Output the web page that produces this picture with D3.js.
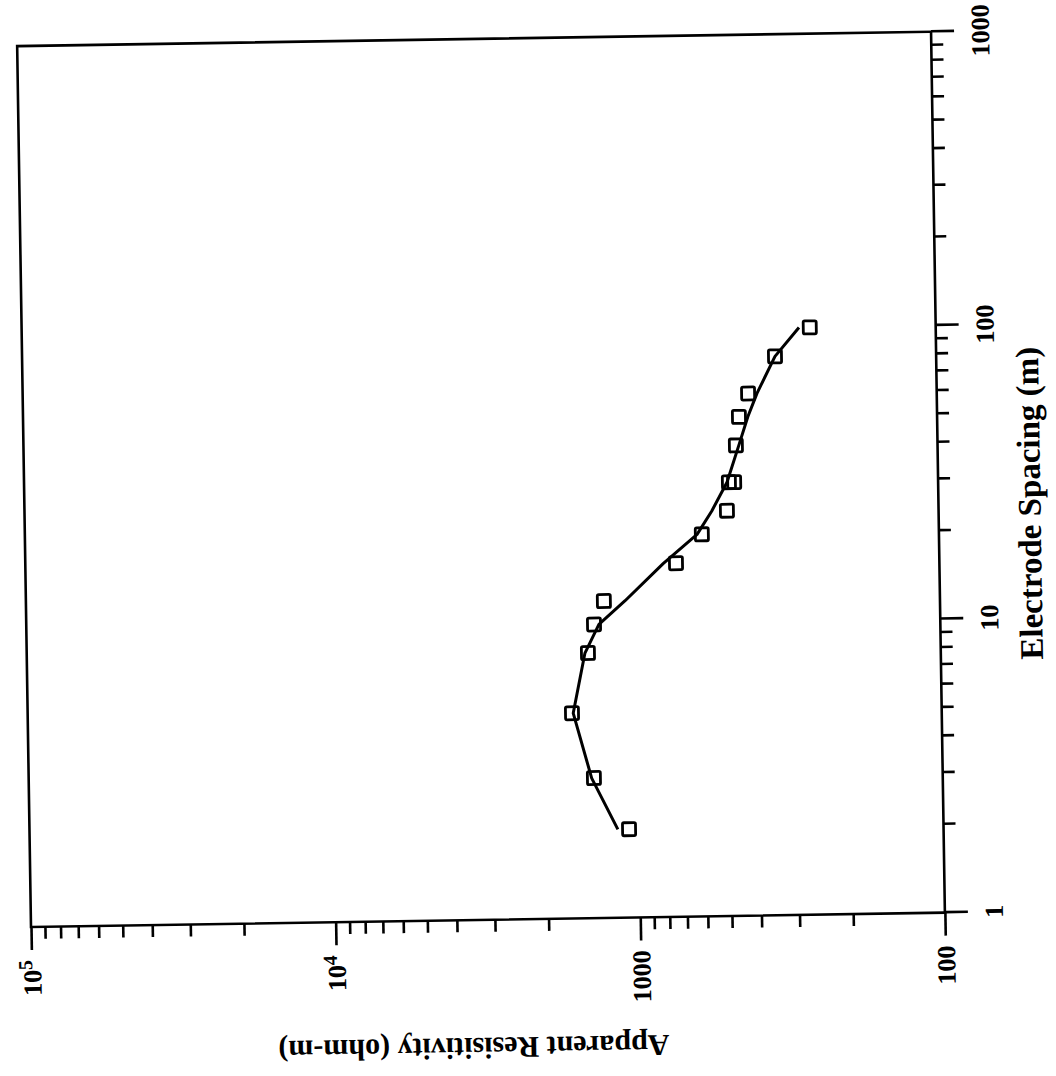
<!DOCTYPE html>
<html>
<head>
<meta charset="utf-8">
<script src="https://cdn.jsdelivr.net/npm/d3@7"></script>
<style>
  body { margin: 0; background: #fff; }
  text { font-family: 'Liberation Serif', 'Times New Roman', serif; font-weight: bold; fill: #000; }
</style>
</head>
<body>
<svg id="chart" width="1056" height="1076"></svg>
<script>
// measured sounding (electrode spacing in m, apparent resistivity in ohm-m)
var spacing = [2, 3, 5, 8, 10, 12, 16, 20, 24, 30, 30, 40, 50, 60, 80, 100]
var apparentRes = [1077, 1396, 1635, 1439, 1370, 1268, 732, 600, 495, 486, 467, 459, 447, 416, 338, 259]

// fitted model curve
var modelSpacing = [2, 3, 5, 8, 10, 12, 16, 20, 24, 30, 40, 50, 60, 80, 100]
var modelRes = [1172, 1420, 1620, 1472, 1320, 1080, 805, 622, 555, 493, 449, 418, 389, 338, 281]

var spacingTicks = [1, 10, 100, 1000]
var resTicks = [100, 1000, 10000, 100000]
var resTickLabels = [['100'], ['1000'], ['10', '4'], ['10', '5']]

var xTitle = 'Electrode Spacing (m)'
var yTitle = 'Apparent Resisitivity (ohm-m)'

var W = 881
var H = 914

var svg = d3.select('#chart')

// the page is a scan of a standard plot turned on its side (and a bit skewed)
var g = svg
  .append('g')
  .attr('transform', 'translate(31,927) rotate(-90.9)')

var x = d3.scaleLog().domain([1, 1000]).range([0, W])
var y = d3.scaleLog().domain([100, 100000]).range([H, 0])

function minorTicks(lo, hi) {
  var out = []
  for (var p = lo; p < hi; p *= 10) {
    for (var k = 1; k < 10; k++) out.push(p * k)
  }
  out.push(hi)
  return out
}

var isMajor = function(d) {
  return Math.abs(Math.log10(d) - Math.round(Math.log10(d))) < 1e-9
}

// x axis (electrode spacing)
var xAxis = g
  .append('g')
  .attr('transform', 'translate(0,' + H + ')')
  .call(
    d3
      .axisBottom(x)
      .tickValues(minorTicks(1, 1000))
      .tickSizeOuter(0)
      .tickFormat(function(d) {
        return spacingTicks.indexOf(d) >= 0 ? String(d) : ''
      })
  )
xAxis.select('.domain').remove()
xAxis
  .selectAll('.tick line')
  .attr('stroke', '#000')
  .attr('stroke-width', 2.6)
  .attr('y2', function(d) {
    return isMajor(d) ? 23 : 12
  })
xAxis
  .selectAll('.tick text')
  .attr('y', 58)
  .attr('dy', 0)
  .style('font-size', '26px')

// y axis (apparent resistivity)
var yAxis = g
  .append('g')
  .call(
    d3
      .axisLeft(y)
      .tickValues(minorTicks(100, 100000))
      .tickSizeOuter(0)
      .tickFormat('')
  )
yAxis.select('.domain').remove()
yAxis
  .selectAll('.tick line')
  .attr('stroke', '#000')
  .attr('stroke-width', 2.6)
  .attr('x2', function(d) {
    return isMajor(d) ? -23 : -12
  })
yAxis
  .selectAll('.tick')
  .filter(function(d) {
    return resTicks.indexOf(d) >= 0
  })
  .each(function(d) {
    var parts = resTickLabels[resTicks.indexOf(d)]
    var t = d3
      .select(this)
      .select('text')
      .text(null)
      .attr('x', -33)
      .attr('dy', '0.35em')
      .attr('text-anchor', 'end')
      .style('font-size', '26px')
    t.append('tspan').text(parts[0])
    if (parts.length > 1)
      t.append('tspan')
        .attr('dy', '-0.45em')
        .style('font-size', '20px')
        .text(parts[1])
  })

// frame
g.append('rect')
  .attr('width', W)
  .attr('height', H)
  .attr('fill', 'none')
  .attr('stroke', '#000')
  .attr('stroke-width', 2.6)

// model curve
var line = d3
  .line()
  .x(function(d, i) {
    return x(modelSpacing[i])
  })
  .y(function(d) {
    return y(d)
  })

g.append('path')
  .attr('d', line(modelRes))
  .attr('fill', 'none')
  .attr('stroke', '#000')
  .attr('stroke-width', 3)
  .attr('stroke-linejoin', 'round')

// data squares
var s = 13
g.selectAll('.pt')
  .data(apparentRes)
  .enter()
  .append('rect')
  .attr('class', 'pt')
  .attr('x', function(d, i) {
    return x(spacing[i]) - s / 2
  })
  .attr('y', function(d) {
    return y(d) - s / 2
  })
  .attr('width', s)
  .attr('height', s)
  .attr('rx', 1.5)
  .attr('fill', 'none')
  .attr('stroke', '#000')
  .attr('stroke-width', 2.8)

// titles
g.append('text')
  .attr('x', 408)
  .attr('y', H + 102)
  .attr('text-anchor', 'middle')
  .style('font-size', '33px')
  .text(xTitle)

g.append('text')
  .attr('transform', 'translate(-118,441) rotate(-90)')
  .attr('text-anchor', 'middle')
  .style('font-size', '30px')
  .text(yTitle)
</script>
</body>
</html>
